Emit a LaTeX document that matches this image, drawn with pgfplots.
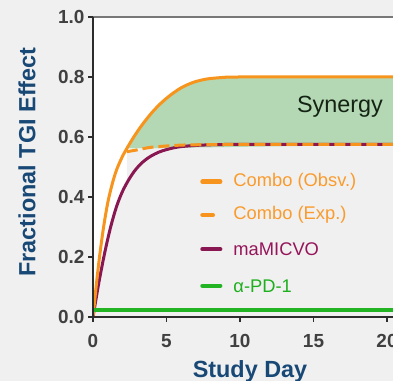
\documentclass[border=0pt]{standalone}
\usepackage{fontspec}
\setmainfont{Liberation Sans}
\usepackage{pgfplots}
\pgfplotsset{compat=1.18}
\usepackage{pgfplotstable}
\usepgfplotslibrary{fillbetween}

\definecolor{bggray}{RGB}{240,240,240}
\definecolor{comboorange}{RGB}{247,148,29}
\definecolor{orangetext}{RGB}{250,155,45}
\definecolor{maroon}{RGB}{137,24,82}
\definecolor{maroontext}{RGB}{150,20,90}
\definecolor{pdgreen}{RGB}{35,180,35}
\definecolor{greentext}{RGB}{30,175,30}
\definecolor{synfill}{RGB}{179,216,179}
\definecolor{labelblue}{RGB}{24,72,117}
\definecolor{tickgray}{RGB}{64,64,64}
\definecolor{axisdark}{RGB}{45,45,45}
\definecolor{topgray}{RGB}{120,120,120}
\definecolor{syntext}{RGB}{20,35,20}

% a figure background layer beneath the axis background
\pgfplotsset{
  layers/withfigbg/.define layer set={
    figbg,axis background,axis grid,axis ticks,axis lines,axis tick labels,
    pre main,main,axis descriptions,axis foreground
  }{/pgfplots/layers/standard},
}

% Combination, observed
\pgfplotstableread{
day eff
0    0
0.2  0.095
0.43 0.195
0.7  0.293
1.0  0.380
1.3  0.442
1.6  0.490
2.0  0.535
2.4  0.570
2.8  0.602
3.2  0.631
3.6  0.657
4.0  0.681
4.5  0.707
5.0  0.729
5.5  0.748
6.0  0.764
6.5  0.776
7.0  0.785
7.5  0.791
8.0  0.795
9.0  0.799
10   0.800
21   0.800
}\obs

% Combination, expected
\pgfplotstableread{
day eff
2.3  0.551
3.0  0.557
3.5  0.562
4.0  0.566
5.0  0.570
6.0  0.573
7.0  0.574
9.0  0.575
21   0.575
}\expd

% maMICVO alone
\pgfplotstableread{
day eff
0    0
0.4  0.115
0.8  0.215
1.2  0.300
1.6  0.368
2.0  0.418
2.4  0.455
2.8  0.485
3.2  0.508
3.6  0.525
4.0  0.538
4.5  0.550
5.0  0.558
5.5  0.564
6.0  0.568
7.0  0.572
8.0  0.574
9.0  0.575
21   0.575
}\mami

% anti-PD-1 alone
\pgfplotstableread{
day eff
0    0.024
21   0.024
}\pdone

\begin{document}
\begin{tikzpicture}
\begin{axis}[
  set layers=withfigbg,
  at={(93bp,64bp)}, anchor=south west,
  scale only axis, width=308.7bp, height=300bp,
  xmin=0, xmax=21, ymin=0, ymax=1,
  axis line style={draw=none},
  axis background/.style={fill=white},
  clip mode=individual,
  xtick={0,5,10,15,20}, ytick={0,0.2,0.4,0.6,0.8,1.0},
  xtick pos=left, ytick pos=left,
  tick align=outside,
  major tick length=5bp,
  every tick/.style={axisdark, line width=1.8bp},
  ticklabel style={font=\fontsize{19}{19}\selectfont\bfseries, text=tickgray},
  xticklabel style={yshift=-9bp},
  /pgf/number format/assume math mode=true,
  yticklabel style={/pgf/number format/.cd, fixed, fixed zerofill, precision=1},
]
\begin{pgfonlayer}{figbg}
\fill[bggray] (rel axis cs:0,0) ++(-93bp,-64bp) rectangle ++(393bp,381bp);
\end{pgfonlayer}
% paths for the synergy band
\addplot[draw=none, name path=obspath, smooth] table {\obs};
\addplot[draw=none, name path=exppath, smooth] table {\expd};
% grey region under the single-agent and expected curves
\addplot[draw=none, fill=bggray, smooth, on layer=pre main] table {\mami} \closedcycle;
\addplot[draw=none, fill=bggray, smooth, on layer=pre main] table {\expd} \closedcycle;
\addplot[synfill, draw=none, on layer=pre main] fill between[of=obspath and exppath, soft clip={domain=2.3:21}];
% curves
\addplot[maroon, line width=3bp, smooth] table {\mami};
\addplot[comboorange, line width=3bp, dash pattern=on 11bp off 5bp, smooth] table {\expd};
\addplot[comboorange, line width=3bp, smooth] table {\obs};
\addplot[pdgreen, line width=3.5bp] table {\pdone};
% axis frame
\draw[topgray, line width=1.6bp] (rel axis cs:0,1) -- (rel axis cs:1,1);
\draw[axisdark, line width=2.2bp] (rel axis cs:0,1) -- (rel axis cs:0,0) -- (rel axis cs:1,0);
% band label
\node[font=\fontsize{23.5}{23.5}\selectfont, text=syntext] at (axis cs:16.8,0.70) {Synergy};
% legend
\draw[comboorange, line width=4.5bp, line cap=round] (axis cs:7.45,0.451) -- (axis cs:8.65,0.451);
\draw[comboorange, line width=4.5bp, line cap=round] (axis cs:7.45,0.340) -- (axis cs:8.15,0.340);
\draw[maroon, line width=4.5bp, line cap=round] (axis cs:7.45,0.226) -- (axis cs:8.65,0.226);
\draw[pdgreen, line width=4.5bp, line cap=round] (axis cs:7.45,0.104) -- (axis cs:8.65,0.104);
\node[anchor=west, inner sep=0, font=\fontsize{18.4}{18.4}\selectfont, text=orangetext] at (axis cs:9.54,0.451) {Combo (Obsv.)};
\node[anchor=west, inner sep=0, font=\fontsize{18.4}{18.4}\selectfont, text=orangetext] at (axis cs:9.54,0.340) {Combo (Exp.)};
\node[anchor=west, inner sep=0, font=\fontsize{18.4}{18.4}\selectfont, text=maroontext] at (axis cs:9.54,0.226) {maMICVO};
\node[anchor=west, inner sep=0, font=\fontsize{18.4}{18.4}\selectfont, text=greentext] at (axis cs:9.54,0.104) {α-PD-1};
\end{axis}
\node[rotate=90, inner sep=0, font=\fontsize{23.5}{23.5}\selectfont\bfseries, text=labelblue] at (27bp,219bp) {Fractional TGI Effect};
\node[anchor=base, inner sep=0, font=\fontsize{23.5}{23.5}\selectfont\bfseries, text=labelblue] at (250bp,4bp) {Study Day};
\pgfresetboundingbox
\path[use as bounding box] (0bp,0bp) rectangle (393bp,381bp);
\end{tikzpicture}
\end{document}
